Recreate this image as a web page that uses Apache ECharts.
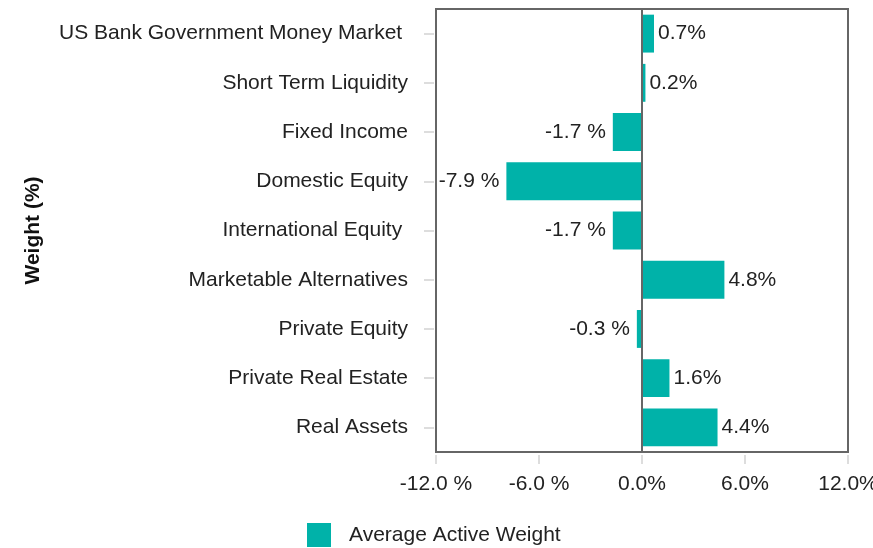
<!DOCTYPE html>
<html>
<head>
<meta charset="utf-8">
<script src="https://cdn.jsdelivr.net/npm/echarts@6/dist/echarts.min.js"></script>
<style>
  html, body { margin: 0; padding: 0; background: #fff; }
  #chart { width: 873px; height: 548px; }
</style>
</head>
<body>
<div id="chart"></div>
<script>
// data
const categories = [
    'US Bank Government Money Market ',
    'Short Term Liquidity',
    'Fixed Income',
    'Domestic Equity',
    'International Equity ',
    'Marketable Alternatives',
    'Private Equity',
    'Private Real Estate',
    'Real Assets'
];
const activeWeight = [0.7, 0.2, -1.7, -7.9, -1.7, 4.8, -0.3, 1.6, 4.4];
const xTicks = [-12, -6, 0, 6, 12];

const pct = v => v < 0 ? v.toFixed(1) + ' %' : v.toFixed(1) + '%';
const font = 'Liberation Sans, Arial, sans-serif';
const fs = 21;

const myChart = echarts.init(document.getElementById('chart'));

const option = {
    animation: false,
    textStyle: { fontFamily: font },
    grid: {
        left: 436, right: 25, top: 9, bottom: 96,
        show: true, borderColor: '#666', borderWidth: 2,
        containLabel: false,
        outerBoundsMode: 'none'
    },
    legend: {
        left: 307, top: 523, padding: 0,
        icon: 'rect', itemWidth: 24, itemHeight: 24, itemGap: 10,
        textStyle: { fontSize: fs, color: '#222', fontFamily: font, padding: [0, 0, 0, 13] },
        data: ['Average Active Weight']
    },
    xAxis: {
        type: 'value',
        min: xTicks[0], max: xTicks[xTicks.length - 1], interval: 6,
        offset: 3,
        axisLine: { show: false, onZero: false },
        axisTick: { show: true, length: 9, lineStyle: { color: '#ddd', width: 2 } },
        splitLine: { show: false },
        axisLabel: { formatter: pct, fontSize: fs, color: '#222', margin: 19, fontFamily: font }
    },
    yAxis: {
        type: 'category',
        data: categories,
        inverse: true,
        offset: 2,
        name: 'Weight (%)',
        nameLocation: 'middle',
        nameGap: 390,
        nameRotate: 90,
        nameTextStyle: { fontSize: fs, fontWeight: 'bold', color: '#111', fontFamily: font },
        axisLine: { show: false, onZero: false },
        axisTick: { show: true, length: 10, alignWithLabel: true, lineStyle: { color: '#ddd', width: 2 } },
        axisLabel: { fontSize: fs, color: '#222', margin: 26, fontFamily: font }
    },
    series: [{
        name: 'Average Active Weight',
        type: 'bar',
        barWidth: '77%',
        itemStyle: { color: '#00b2a9' },
        label: {
            show: true,
            fontSize: fs,
            color: '#222',
            fontFamily: font,
            formatter: p => pct(p.value)
        },
        // negative bars get their labels on the left
        data: activeWeight.map(v => ({
            value: v,
            label: { position: v < 0 ? 'left' : 'right', distance: v < 0 ? 7 : 4 }
        })),
        markLine: {
            silent: true,
            symbol: 'none',
            label: { show: false },
            lineStyle: { color: '#666', width: 2, type: 'solid' },
            data: [{ xAxis: 0 }]
        }
    }]
};

myChart.setOption(option);
</script>
</body>
</html>
